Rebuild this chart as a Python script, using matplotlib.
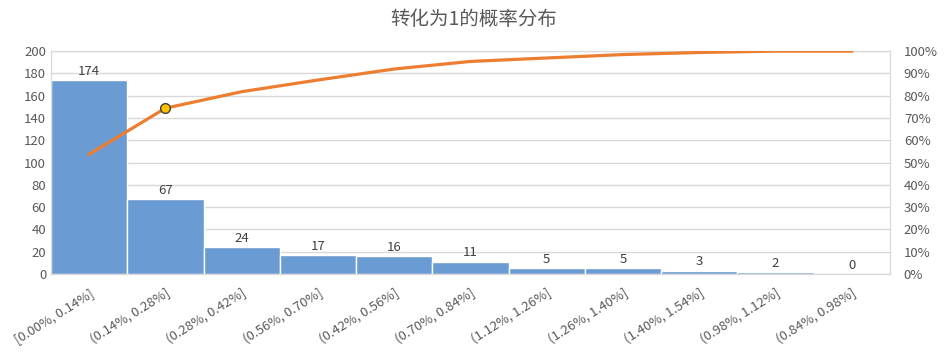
import matplotlib.pyplot as plt
import numpy as np
from matplotlib.ticker import PercentFormatter

plt.rcParams['font.family'] = ['Noto Sans CJK SC', 'DejaVu Sans']

# 数据
categories = ['[0.00%, 0.14%]', '(0.14%, 0.28%]', '(0.28%, 0.42%]', '(0.56%, 0.70%]',
              '(0.42%, 0.56%]', '(0.70%, 0.84%]', '(1.12%, 1.26%]', '(1.26%, 1.40%]',
              '(1.40%, 1.54%]', '(0.98%, 1.12%]', '(0.84%, 0.98%]']
counts = [174, 67, 24, 17, 16, 11, 5, 5, 3, 2, 0]
title = '转化为1的概率分布'

text_color = '#595959'
grid_color = '#D9D9D9'

cum_pct = np.cumsum(counts) / np.sum(counts) * 100
x = np.arange(len(categories))

fig = plt.figure(figsize=(9.48, 3.6), dpi=100)
ax = fig.add_axes([0.0538, 0.239, 0.885, 0.619])

ax.bar(x, counts, width=1.0, color='#6A9BD3', edgecolor='white', linewidth=1.0, zorder=2)
for xi, c in zip(x, counts):
    ax.text(xi, c + 2, str(c), ha='center', va='bottom', fontsize=9.5, color='#404040')

ax.set_xlim(-0.5, len(categories) - 0.5)
ax.set_ylim(0, 200)
ax.set_yticks(range(0, 201, 20))
ax.yaxis.grid(True, color=grid_color, linewidth=1, zorder=0)
ax.set_axisbelow(True)
ax.set_xticks(x)
ax.set_xticklabels(categories, rotation=32, ha='right', rotation_mode='anchor')
ax.tick_params(axis='both', length=0, labelsize=9.5, colors=text_color)
ax.tick_params(axis='x', pad=9)
for s in ax.spines.values():
    s.set_color(grid_color)
ax.spines['bottom'].set_color('#BFBFBF')

ax2 = ax.twinx()
ax2.plot(x, cum_pct, color='#ED7D31', linewidth=2.3, zorder=3)
ax2.plot(x[1], cum_pct[1], 'o', markersize=7, markerfacecolor='#FFC000',
         markeredgecolor='#404040', markeredgewidth=1, zorder=4)
ax2.set_ylim(0, 100)
ax2.set_yticks(range(0, 101, 10))
ax2.yaxis.set_major_formatter(PercentFormatter(decimals=0))
ax2.tick_params(axis='y', length=0, labelsize=9.5, colors=text_color, pad=10)
for s in ax2.spines.values():
    s.set_color(grid_color)

fig.suptitle(title, y=0.975, fontsize=14, color=text_color)

fig.savefig('out.png', dpi=100)
